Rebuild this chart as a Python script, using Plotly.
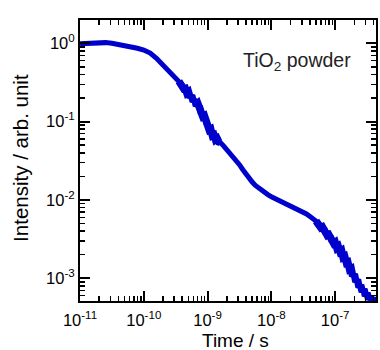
import plotly.graph_objects as go

# ---- data (time in s, intensity in arb. unit) ----
time_s = [
    1.00e-11, 1.26e-11, 1.58e-11, 2.00e-11, 2.51e-11, 3.16e-11, 3.98e-11, 5.01e-11, 6.31e-11, 7.94e-11,
    1.00e-10, 1.26e-10, 1.58e-10, 2.00e-10, 2.51e-10, 3.16e-10,
    3.55e-10, 3.76e-10, 3.98e-10, 4.22e-10, 4.47e-10, 4.73e-10, 5.01e-10, 5.31e-10, 5.62e-10,
    5.96e-10, 6.31e-10, 6.68e-10, 7.08e-10, 7.50e-10, 7.94e-10, 8.41e-10, 8.91e-10, 9.44e-10,
    1.00e-9, 1.06e-9, 1.12e-9, 1.19e-9, 1.26e-9, 1.33e-9, 1.41e-9, 1.50e-9, 1.58e-9,
    1.78e-9, 2.00e-9, 2.24e-9, 2.51e-9, 2.82e-9, 3.16e-9, 3.55e-9, 3.98e-9, 4.47e-9, 5.01e-9,
    5.62e-9, 6.31e-9, 7.08e-9, 7.94e-9, 8.91e-9,
    1.00e-8, 1.12e-8, 1.26e-8, 1.41e-8, 1.58e-8, 1.78e-8, 2.00e-8, 2.24e-8, 2.51e-8, 2.82e-8,
    3.16e-8, 3.55e-8, 3.98e-8, 4.47e-8,
    5.01e-8, 5.31e-8, 5.62e-8, 5.96e-8, 6.31e-8, 6.68e-8, 7.08e-8, 7.50e-8, 7.94e-8, 8.41e-8,
    8.91e-8, 9.44e-8,
    1.00e-7, 1.06e-7, 1.12e-7, 1.19e-7, 1.26e-7, 1.33e-7, 1.41e-7, 1.50e-7, 1.58e-7, 1.68e-7,
    1.78e-7, 1.88e-7, 2.00e-7, 2.11e-7, 2.24e-7, 2.37e-7, 2.51e-7, 2.66e-7, 2.82e-7, 2.99e-7,
    3.16e-7, 3.35e-7, 3.55e-7, 3.76e-7, 3.98e-7, 4.22e-7,
]

intensity = [
    0.99, 1.00, 1.01, 1.02, 1.02, 1.00, 0.97, 0.935, 0.90, 0.865,
    0.82, 0.75, 0.645, 0.53, 0.44, 0.36,
    0.327, 0.299, 0.295, 0.263, 0.266, 0.232, 0.240, 0.204, 0.216,
    0.181, 0.191, 0.159, 0.168, 0.138, 0.143, 0.116, 0.119, 0.0955,
    0.0966, 0.0785, 0.0804, 0.0661, 0.0676, 0.0589, 0.0610, 0.0550, 0.0543,
    0.0490, 0.0442, 0.0398, 0.0355, 0.0316, 0.0282, 0.0245, 0.0214, 0.0189, 0.0169,
    0.0153, 0.0141, 0.0131, 0.0123, 0.0116,
    0.0110, 0.0105, 0.0101, 0.00973, 0.00933, 0.00891, 0.00851, 0.00813, 0.00776, 0.00741,
    0.00700, 0.00661, 0.00617, 0.00569,
    0.00537, 0.00487, 0.00493, 0.00442, 0.00452, 0.00398, 0.00403, 0.00353, 0.00361, 0.00315,
    0.00322, 0.00279,
    0.00288, 0.00245, 0.00254, 0.00218, 0.00225, 0.00185, 0.00190, 0.00157, 0.00160, 0.00130,
    0.00133, 0.00107, 0.00112, 0.000902, 0.000955, 0.000767, 0.000813, 0.000668, 0.000724, 0.000596,
    0.000646, 0.000537, 0.000589, 0.000501, 0.000562, 0.000479,
]

# time windows where the measured trace is visibly noisy (drawn as a wider band)
noisy_windows = [(3.5e-10, 1.6e-9), (5.0e-8, 4.3e-7)]

x_tick_vals = [1e-11, 1e-10, 1e-9, 1e-8, 1e-7]
x_tick_text = ["10<sup>-11</sup>", "10<sup>-10</sup>", "10<sup>-9</sup>", "10<sup>-8</sup>", "10<sup>-7</sup>"]
y_tick_vals = [1e-3, 1e-2, 1e-1, 1e0]
y_tick_text = ["10<sup>-3</sup>", "10<sup>-2</sup>", "10<sup>-1</sup>", "10<sup>0</sup>"]

x_title = "Time / s"
y_title = "Intensity / arb. unit"
label_text = "TiO<sub>2</sub> powder"

FONT = "Liberation Sans, Arial, sans-serif"
BLUE = "#0000CD"

fig = go.Figure()
fig.add_trace(go.Scatter(
    x=time_s, y=intensity, mode="lines",
    line=dict(color=BLUE, width=5),
    showlegend=False, hoverinfo="skip",
))
for lo, hi in noisy_windows:
    seg = [(t, v) for t, v in zip(time_s, intensity) if lo <= t <= hi]
    fig.add_trace(go.Scatter(
        x=[p[0] for p in seg], y=[p[1] for p in seg], mode="lines",
        line=dict(color=BLUE, width=7.5),
        showlegend=False, hoverinfo="skip",
    ))

axis_common = dict(
    type="log",
    showgrid=False, zeroline=False,
    showline=True, linecolor="black", linewidth=2,
    mirror="ticks",
    ticks="inside", ticklen=10, tickwidth=2, tickcolor="black",
    tickfont=dict(family=FONT, size=16.5, color="black"),
    minor=dict(ticks="inside", ticklen=5, tickwidth=1.5, tickcolor="black",
               dtick="D1", showgrid=False),
)

fig.update_xaxes(
    **axis_common,
    range=[-11, -6.36],
    tickmode="array", tickvals=x_tick_vals, ticktext=x_tick_text,
    ticklabelstandoff=3,
)
fig.update_yaxes(
    **axis_common,
    range=[-3.291, 0.2976],
    tickmode="array", tickvals=y_tick_vals, ticktext=y_tick_text,
    ticklabelstandoff=0,
)

# axis titles
fig.add_annotation(
    x=0.527, y=-0.1406, xref="paper", yref="paper",
    xanchor="center", yanchor="middle",
    text=x_title, showarrow=False,
    font=dict(family=FONT, size=19, color="black"),
)
fig.add_annotation(
    x=-0.2013, y=0.5107, xref="paper", yref="paper",
    xanchor="center", yanchor="middle", textangle=-90,
    text=y_title, showarrow=False,
    font=dict(family=FONT, size=20.5, color="black"),
)

# sample label
fig.add_annotation(
    x=0.5446, y=0.8534, xref="paper", yref="paper",
    xanchor="left", yanchor="middle",
    text=label_text, showarrow=False,
    font=dict(family=FONT, size=19.5, color="#222222"),
)

fig.update_layout(
    width=380, height=350,
    margin=dict(l=80, r=2, t=20, b=49),
    paper_bgcolor="white", plot_bgcolor="white",
    font=dict(family=FONT, color="black"),
)

fig.write_html(
    "out.html",
    config={"displayModeBar": False, "staticPlot": True},
    post_script="document.body.style.margin='0px';",
)
